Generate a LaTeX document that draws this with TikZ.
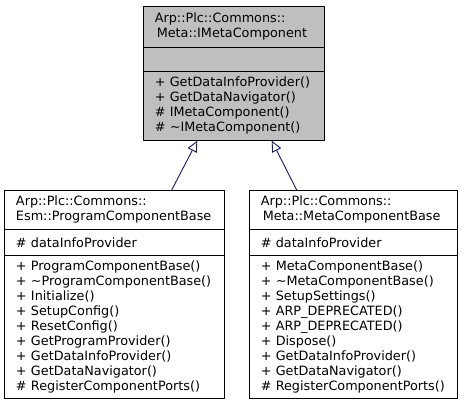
\documentclass[tikz,border=0pt]{standalone}
\usepackage{fontspec}
\setmainfont{DejaVu Sans}
\usetikzlibrary{positioning,arrows.meta}
\definecolor{edgeblue}{HTML}{191970}
\definecolor{classgray}{HTML}{BFBFBF}

\begin{document}
\begin{tikzpicture}[
  x = 1pt, y = -1pt,
  font = \fontsize{12.8}{15}\selectfont,
  part/.style = {
    draw = black, fill = white, line width = 0.9pt,
    align = left, inner xsep = 11.5pt, inner ysep = 0pt,
    outer sep = 0pt},
  top part/.style = {part, fill = classgray, text width = 158pt},
  left part/.style = {part, text width = 197.2pt},
  right part/.style = {part, text width = 185.2pt},
  inherit/.style = {
    draw = edgeblue, line width = 0.9pt,
    -{Triangle[open, length = 11pt, width = 10pt, fill = white]}}
  ]
  \useasboundingbox (0,0) rectangle (464,404);

  % base interface
  \node [top part, anchor = north west, minimum height = 41pt]
    (imetaT) at (143.3,6)
    {Arp::Plc::Commons::\\\hspace{2pt}Meta::IMetaComponent};
  \node [top part, below = 0pt of imetaT, minimum height = 24pt] (imetaA) {};
  \node [top part, below = 0pt of imetaA, minimum height = 69.7pt] (imetaM)
    {+ GetDataInfoProvider()\\
     + GetDataNavigator()\\
     \# IMetaComponent()\\
     \# \textasciitilde IMetaComponent()};

  % derived classes
  \node [left part, anchor = north west, minimum height = 39.3pt]
    (progT) at (4.5,190)
    {Arp::Plc::Commons::\\Esm::ProgramComponentBase};
  \node [left part, below = 0pt of progT, minimum height = 26.2pt] (progA)
    {\# dataInfoProvider};
  \node [left part, below = 0pt of progA, minimum height = 142.5pt] (progM)
    {+ ProgramComponentBase()\\
     + \textasciitilde ProgramComponentBase()\\
     + Initialize()\\
     + SetupConfig()\\
     + ResetConfig()\\
     + GetProgramProvider()\\
     + GetDataInfoProvider()\\
     + GetDataNavigator()\\
     \# RegisterComponentPorts()};

  \node [right part, anchor = north west, minimum height = 39.3pt]
    (metaT) at (249.3,190)
    {Arp::Plc::Commons::\\\hspace{2pt}Meta::MetaComponentBase};
  \node [right part, below = 0pt of metaT, minimum height = 26.2pt] (metaA)
    {\# dataInfoProvider};
  \node [right part, below = 0pt of metaA, minimum height = 142.5pt] (metaM)
    {+ MetaComponentBase()\\
     + \textasciitilde MetaComponentBase()\\
     + SetupSettings()\\
     + ARP\_DEPRECATED()\\
     + ARP\_DEPRECATED()\\
     + Dispose()\\
     + GetDataInfoProvider()\\
     + GetDataNavigator()\\
     \# RegisterComponentPorts()};

  % inheritance
  \draw [inherit] ([xshift = 57.1pt]progT.north) -- ([xshift = -36.5pt]imetaM.south);
  \draw [inherit] ([xshift = -56.7pt]metaT.north) -- ([xshift = 37.9pt]imetaM.south);
\end{tikzpicture}
\end{document}
